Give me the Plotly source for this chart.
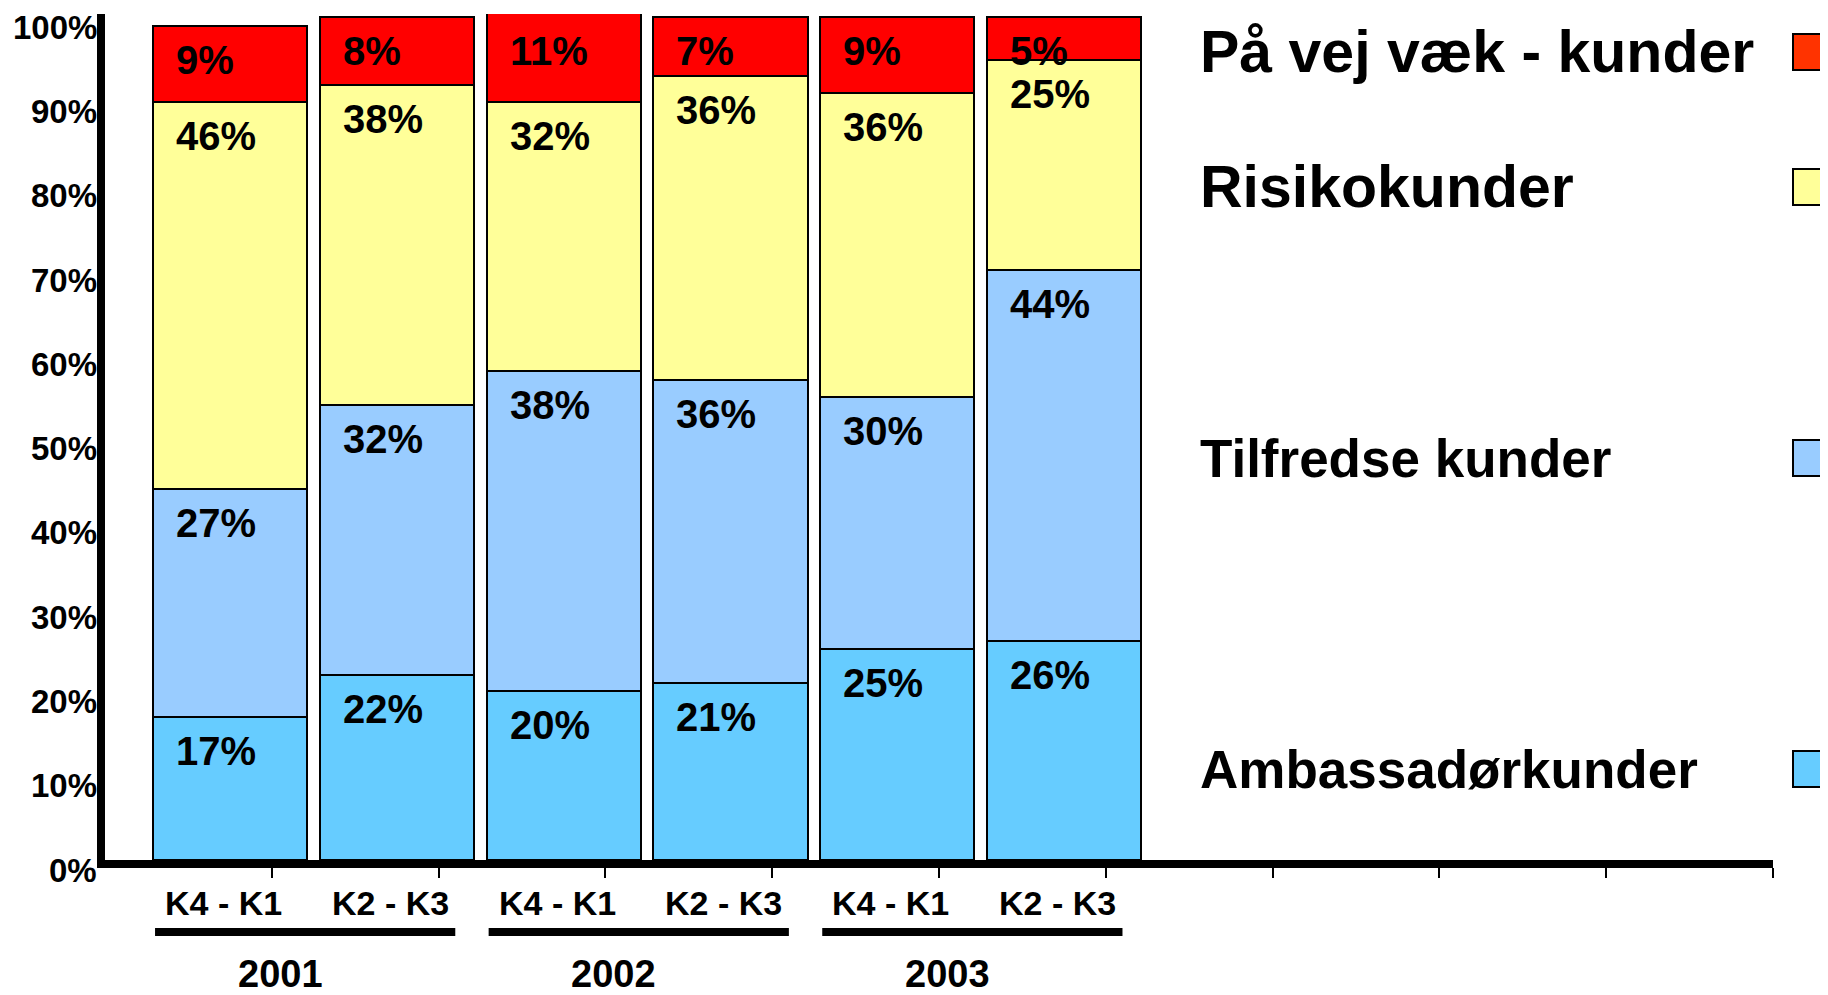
import plotly.graph_objects as go

# ---------------- data ----------------
periods = ["K4 - K1", "K2 - K3", "K4 - K1", "K2 - K3", "K4 - K1", "K2 - K3"]
years = ["2001", "2002", "2003"]
series_names = ["Ambassadørkunder", "Tilfredse kunder", "Risikokunder", "På vej væk - kunder"]
ambassador = [17, 22, 20, 21, 25, 26]
tilfredse = [27, 32, 38, 36, 30, 44]
risiko = [46, 38, 32, 36, 36, 25]
paa_vej = [9, 8, 11, 7, 9, 5]
y_tick_vals = [0, 10, 20, 30, 40, 50, 60, 70, 80, 90, 100]
y_tick_text = ["0%", "10%", "20%", "30%", "40%", "50%", "60%", "70%", "80%", "90%", "100%"]

series_values = [ambassador, tilfredse, risiko, paa_vej]
bar_colors = ["#66CCFF", "#99CCFF", "#FFFF99", "#FF0000"]
legend_colors = ["#66CCFF", "#99CCFF", "#FFFF99", "#FF3300"]

# ---------------- layout constants (pixels) ----------------
W, H = 1828, 995
OFF = 8  # default page body margin
# plot area in screen pixels: x 105..1773, y 14..860
SX0, SX1, SY0, SY1 = 105, 1773, 14, 860
L, T = SX0 - OFF, SY0 - OFF
R, B = W - (SX1 - OFF), H - (SY1 - OFF)
PW, PH = SX1 - SX0, SY1 - SY0
FONT = "Liberation Sans, Arial, sans-serif"

def px_to_paper_x(sx):
    return (sx - SX0) / PW

def px_to_paper_y(sy):
    return (SY1 - sy) / PH

n_cat = 10
bar_offset = 0.75
bar_width = 0.925
x_pos = [i + bar_offset for i in range(len(periods))]

fig = go.Figure()
for name, vals, col in zip(series_names, series_values, bar_colors):
    fig.add_trace(go.Bar(
        x=x_pos, y=vals, name=name, width=bar_width,
        marker=dict(color=col, line=dict(color="black", width=2)),
        showlegend=False, hoverinfo="skip",
    ))

annotations = []
shapes = []

# segment labels
cum = [0] * len(periods)
for vals in series_values:
    for i, v in enumerate(vals):
        cum[i] += v
        top = min(cum[i], 100)
        annotations.append(dict(
            x=x_pos[i] - bar_width / 2, y=top, xref="x", yref="y",
            text=f"{v}%", showarrow=False, xanchor="left", yanchor="middle",
            xshift=21, yshift=-34,
            font=dict(family=FONT, size=40, color="black", weight=700),
        ))

# y tick labels
for v, t in zip(y_tick_vals, y_tick_text):
    annotations.append(dict(
        x=px_to_paper_x(99), y=v, xref="paper", yref="y", text=t,
        showarrow=False, xanchor="right", yanchor="middle", yshift=-10,
        font=dict(family=FONT, size=33, color="black", weight=700),
    ))

# category labels
for i, p in enumerate(periods):
    annotations.append(dict(
        x=x_pos[i] - 0.04, y=0, xref="x", yref="y", text=p, showarrow=False,
        xanchor="center", yanchor="middle", yshift=-43,
        font=dict(family=FONT, size=34, color="black", weight=700),
    ))

# year group underlines and labels
for g, yr in enumerate(years):
    a, b = x_pos[2 * g], x_pos[2 * g + 1]
    shapes.append(dict(
        type="line", xref="paper", yref="paper",
        x0=(a - 0.45) / n_cat, x1=(b + 0.35) / n_cat,
        y0=px_to_paper_y(932), y1=px_to_paper_y(932),
        line=dict(color="black", width=8),
    ))
    annotations.append(dict(
        x=(a + b) / 2 - 0.2, y=0, xref="x", yref="y", text=yr, showarrow=False,
        xanchor="center", yanchor="middle", yshift=-114,
        font=dict(family=FONT, size=38, color="black", weight=700),
    ))

# legend (text + squares on the right)
legend_text_y = [769, 458, 187, 52]
legend_sizes = [53, 53, 59, 59]
for name, col, ty, fs in zip(series_names, legend_colors, legend_text_y, legend_sizes):
    annotations.append(dict(
        x=px_to_paper_x(1198), y=px_to_paper_y(ty), xref="paper", yref="paper",
        text=name, showarrow=False, xanchor="left", yanchor="middle",
        font=dict(family=FONT, size=fs, color="black", weight=700),
    ))
    shapes.append(dict(
        type="rect", xref="paper", yref="paper",
        x0=px_to_paper_x(1793), x1=px_to_paper_x(1840),
        y0=px_to_paper_y(ty + 18), y1=px_to_paper_y(ty - 18),
        fillcolor=col, line=dict(color="black", width=2),
    ))

fig.update_layout(
    width=W, height=H,
    margin=dict(l=L, r=R, t=T, b=B, pad=0),
    barmode="stack",
    plot_bgcolor="white", paper_bgcolor="white",
    annotations=annotations, shapes=shapes,
    xaxis=dict(
        range=[0, n_cat], showgrid=False, zeroline=False,
        showline=True, linecolor="black", linewidth=8,
        tickvals=list(range(1, n_cat + 1)), ticktext=[""] * n_cat,
        ticks="outside", ticklen=10, tickwidth=1.5, tickcolor="black",
        fixedrange=True,
    ),
    yaxis=dict(
        range=[0, 100.4], showgrid=False, zeroline=False,
        showline=True, linecolor="black", linewidth=8,
        showticklabels=False, ticks="", fixedrange=True,
    ),
    font=dict(family=FONT),
)

fig.write_html("out.html")
